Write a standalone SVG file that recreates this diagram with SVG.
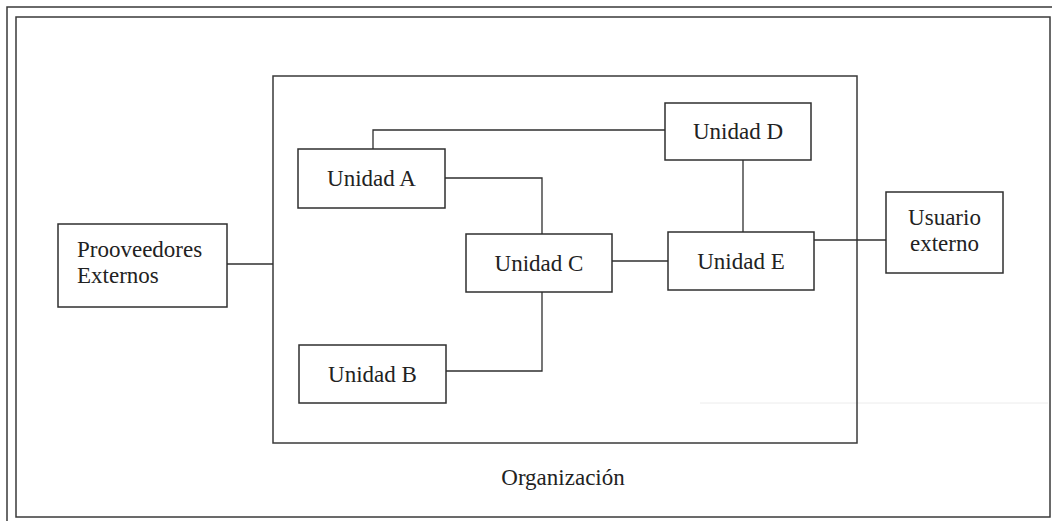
<svg xmlns="http://www.w3.org/2000/svg" width="1052" height="522" viewBox="0 0 1052 522">
  <style>
    .box { fill: #ffffff; stroke: #2f2f2f; stroke-width: 1.5; }
    .frame { fill: none; stroke: #3a3a3a; stroke-width: 1.5; }
    .conn { fill: none; stroke: #2f2f2f; stroke-width: 1.3; }
    .lbl { font-family: "Liberation Serif", "Times New Roman", serif; font-size: 23px; fill: #222222; }
    .mid { text-anchor: middle; }
  </style>
  <rect x="0" y="0" width="1052" height="522" fill="#ffffff"/>
  <g id="page-frame">
    <polyline class="frame" points="7,521 7,7 1052,7" stroke="#8a8a8a"/>
    <rect class="frame" x="16" y="17" width="1034" height="500"/>
    <line x1="700" y1="403" x2="1048" y2="403" stroke="#ececec" stroke-width="1"/>
  </g>
  <g id="organizacion">
    <rect class="frame" x="273" y="76" width="584" height="367"/>
    <text class="lbl mid" x="563" y="485">Organización</text>
  </g>
  <g id="connectors">
    <polyline class="conn" points="227,264 273,264"/>
    <polyline class="conn" points="373,149 373,130 665,130"/>
    <polyline class="conn" points="445,178 542,178 542,234"/>
    <polyline class="conn" points="446,371 542,371 542,292"/>
    <polyline class="conn" points="612,261 668,261"/>
    <polyline class="conn" points="743,160 743,232"/>
    <polyline class="conn" points="812,240 887,240"/>
  </g>
  <g id="prooveedores">
    <rect class="box" x="58" y="224" width="169" height="83"/>
    <text class="lbl" x="77" y="257">Prooveedores</text>
    <text class="lbl" x="77" y="283">Externos</text>
  </g>
  <g id="unidad-a">
    <rect class="box" x="298" y="149" width="147" height="59"/>
    <text class="lbl mid" x="371.5" y="186">Unidad A</text>
  </g>
  <g id="unidad-b">
    <rect class="box" x="299" y="345" width="147" height="58"/>
    <text class="lbl mid" x="372.5" y="382">Unidad B</text>
  </g>
  <g id="unidad-c">
    <rect class="box" x="466" y="234" width="146" height="58"/>
    <text class="lbl mid" x="539" y="271">Unidad C</text>
  </g>
  <g id="unidad-d">
    <rect class="box" x="665" y="103" width="146" height="57"/>
    <text class="lbl mid" x="738" y="139">Unidad D</text>
  </g>
  <g id="unidad-e">
    <rect class="box" x="668" y="232" width="146" height="58"/>
    <text class="lbl mid" x="741" y="269">Unidad E</text>
  </g>
  <g id="usuario-externo">
    <rect class="box" x="886" y="192" width="117" height="81"/>
    <text class="lbl mid" x="944.5" y="225">Usuario</text>
    <text class="lbl mid" x="944.5" y="251">externo</text>
  </g>
</svg>
